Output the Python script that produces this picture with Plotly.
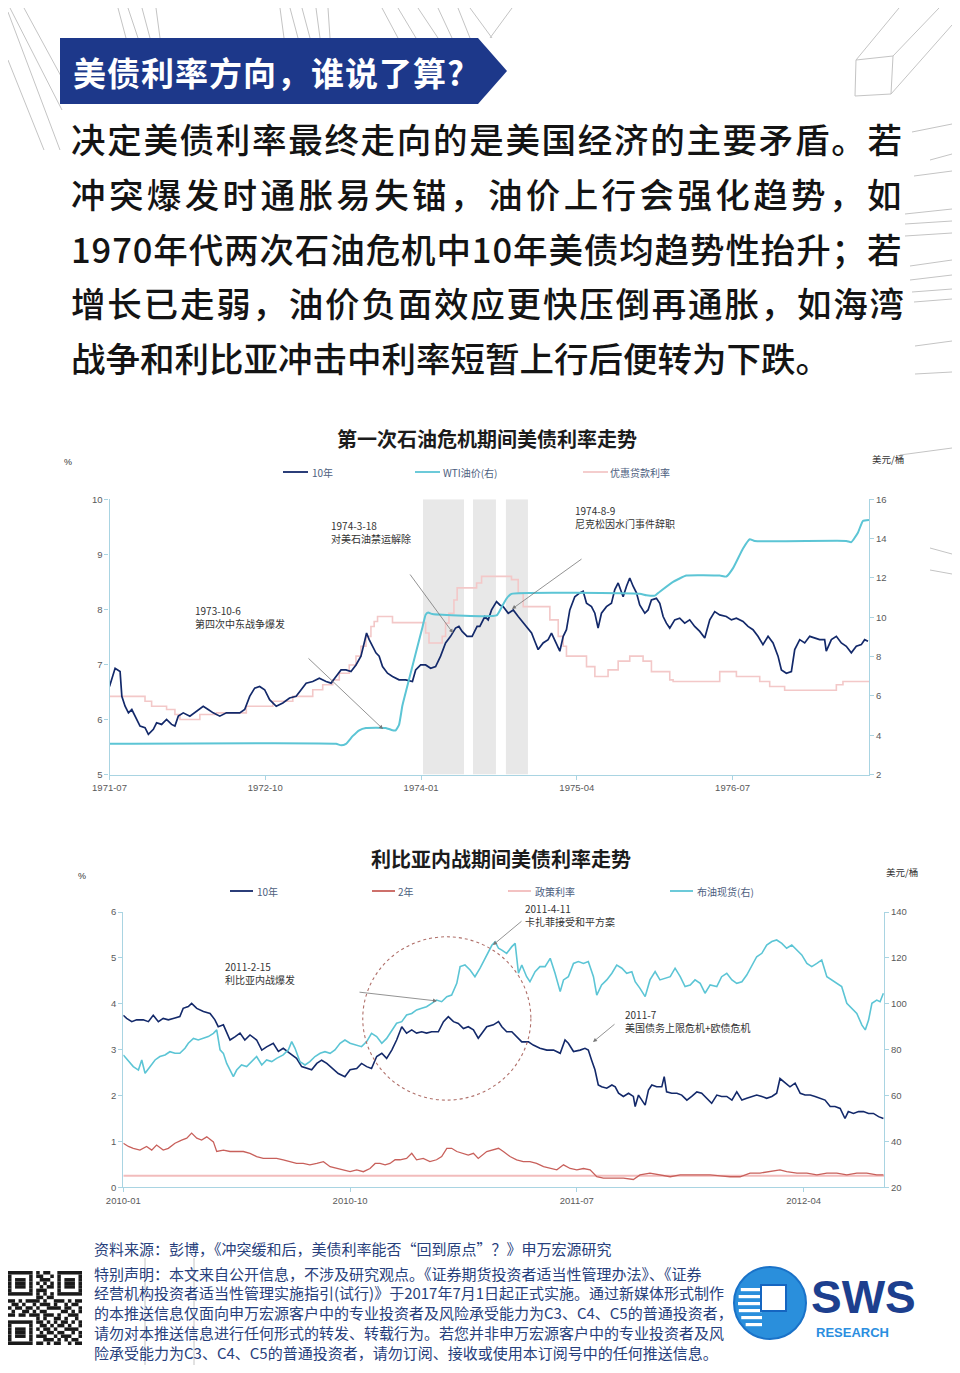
import plotly.graph_objects as go

# The page body keeps its default 8px margin, so the figure is drawn 8px in
# from the page corner; all layout positions below are given in page pixels.
PAGE_W, PAGE_H = 960, 1373
OFF = 8
W, H = PAGE_W - 2 * OFF, PAGE_H - 2 * OFF


def X(px):
    return (px - OFF) / W


def Y(py):
    return 1 - (py - OFF) / H


# ---------------- chart 1 data (decimal years) ----------------
c1_xtick_vals = [1971.5, 1972.75, 1974.0, 1975.25, 1976.5]
c1_xtick_text = ["1971-07", "1972-10", "1974-01", "1975-04", "1976-07"]
c1_bands = [(1974.016, 1974.345), (1974.417, 1974.601), (1974.681, 1974.858)]

c1_t10_year = [
    1971.500, 1971.545, 1971.585, 1971.599, 1971.625, 1971.652, 1971.679, 1971.705, 1971.745, 1971.785,
    1971.812, 1971.852, 1971.878, 1971.918, 1971.958, 1971.998, 1972.025, 1972.052, 1972.092, 1972.145,
    1972.198, 1972.252, 1972.292, 1972.332, 1972.385, 1972.438, 1972.491, 1972.545, 1972.585, 1972.625,
    1972.665, 1972.705, 1972.745, 1972.785, 1972.838, 1972.891, 1972.945, 1972.998, 1973.038, 1973.078,
    1973.131, 1973.184, 1973.238, 1973.278, 1973.318, 1973.358, 1973.398, 1973.438, 1973.478, 1973.518,
    1973.544, 1973.563, 1973.584, 1973.611, 1973.638, 1973.664, 1973.691, 1973.731, 1973.771, 1973.824,
    1973.877, 1973.931, 1973.957, 1973.997, 1974.037, 1974.077, 1974.117, 1974.157, 1974.197, 1974.237,
    1974.277, 1974.304, 1974.330, 1974.370, 1974.410, 1974.450,
    1974.472, 1974.512, 1974.539, 1974.566, 1974.606, 1974.633, 1974.660, 1974.700, 1974.740, 1974.780,
    1974.820, 1974.860, 1974.887, 1974.913, 1974.940, 1974.980, 1975.020, 1975.047, 1975.087, 1975.114,
    1975.141, 1975.167, 1975.194, 1975.234, 1975.274, 1975.301, 1975.328, 1975.368, 1975.395, 1975.421,
    1975.448, 1975.488, 1975.528, 1975.555, 1975.582, 1975.622, 1975.649, 1975.675, 1975.702, 1975.729,
    1975.755, 1975.796, 1975.822, 1975.849, 1975.889, 1975.916, 1975.943, 1975.969, 1975.996, 1976.036,
    1976.076, 1976.116, 1976.156, 1976.196, 1976.237, 1976.277, 1976.317, 1976.357, 1976.397, 1976.450,
    1976.491, 1976.531, 1976.584, 1976.624, 1976.664, 1976.704, 1976.744, 1976.785, 1976.825, 1976.865,
    1976.892, 1976.932, 1976.972, 1976.999, 1977.039, 1977.079, 1977.119, 1977.159, 1977.199, 1977.239,
    1977.252, 1977.293, 1977.333, 1977.373, 1977.413, 1977.453, 1977.493, 1977.533, 1977.560, 1977.587,
]
c1_t10_val = [
    6.60, 6.93, 6.87, 6.42, 6.24, 6.12, 6.18, 6.06, 5.88, 5.85,
    5.73, 5.82, 5.94, 5.91, 6.00, 5.91, 5.88, 6.06, 6.12, 6.06,
    6.15, 6.24, 6.18, 6.12, 6.06, 6.12, 6.12, 6.12, 6.18, 6.42,
    6.57, 6.60, 6.54, 6.36, 6.24, 6.30, 6.39, 6.42, 6.54, 6.66,
    6.69, 6.75, 6.69, 6.66, 6.78, 6.90, 6.90, 6.87, 6.99, 7.15,
    7.39, 7.57, 7.45, 7.33, 7.21, 7.15, 6.96, 6.84, 6.78, 6.72,
    6.72, 6.69, 6.90, 6.99, 6.99, 6.93, 6.96, 7.15, 7.39, 7.51,
    7.66, 7.69, 7.60, 7.51, 7.51, 7.69,
    7.69, 7.87, 7.81, 7.99, 8.14, 8.08, 8.05, 7.93, 7.99, 7.87,
    7.75, 7.63, 7.57, 7.42, 7.27, 7.39, 7.45, 7.57, 7.39, 7.24,
    7.51, 7.63, 7.99, 8.23, 8.30, 8.33, 8.11, 8.05, 7.93, 7.66,
    7.93, 8.05, 8.11, 8.36, 8.48, 8.23, 8.42, 8.57, 8.42, 8.30,
    8.08, 7.93, 7.99, 8.17, 8.20, 8.11, 7.87, 7.75, 7.66, 7.81,
    7.84, 7.75, 7.81, 7.69, 7.60, 7.48, 7.81, 7.96, 7.90, 7.87,
    7.81, 7.84, 7.78, 7.69, 7.63, 7.51, 7.36, 7.51, 7.39, 7.15,
    6.90, 6.84, 6.87, 7.27, 7.45, 7.39, 7.51, 7.48, 7.45, 7.45,
    7.24, 7.45, 7.51, 7.39, 7.33, 7.21, 7.33, 7.36, 7.45, 7.42,
]

c1_wti_year = [
    1971.500, 1973.318, 1973.358, 1973.398, 1973.451, 1973.504, 1973.558, 1973.717, 1973.771, 1973.797,
    1973.824, 1973.851, 1973.904, 1973.957, 1974.011, 1974.037, 1974.058, 1974.091, 1974.606, 1974.646,
    1974.686, 1974.726, 1975.755, 1975.809, 1975.876, 1975.916, 1976.023, 1976.130, 1976.397, 1976.450,
    1976.504, 1976.584, 1976.638, 1976.678, 1977.413, 1977.453, 1977.506, 1977.546, 1977.595,
]
c1_wti_val = [
    3.56, 3.56, 3.49, 3.56, 3.95, 4.25, 4.37, 4.37, 4.25, 4.25,
    4.54, 5.52, 6.84, 8.16, 9.48, 10.13, 10.24, 10.16, 10.09, 10.5,
    10.95, 11.19, 11.19, 11.12, 11.10, 11.3, 11.8, 12.12, 12.12, 12.07,
    12.5, 13.5, 13.97, 13.88, 13.88, 13.82, 14.3, 14.9, 14.95,
]

c1_prime_year = [
    1971.500, 1971.785, 1971.838, 1971.958, 1972.025, 1972.065, 1972.225, 1972.358, 1972.598, 1972.811,
    1972.971, 1973.131, 1973.211, 1973.291, 1973.344, 1973.424, 1973.478, 1973.518, 1973.558, 1973.598,
    1973.624, 1973.651, 1973.771, 1974.037, 1974.064, 1974.170, 1974.197, 1974.224, 1974.264, 1974.290,
    1974.446, 1974.486, 1974.726, 1974.780, 1974.820, 1975.034, 1975.101, 1975.141, 1975.167, 1975.328,
    1975.395, 1975.501, 1975.582, 1975.675, 1975.782, 1975.849, 1975.996, 1976.023, 1976.397, 1976.531,
    1976.718, 1976.798, 1976.918, 1977.333, 1977.386, 1977.595,
]
c1_prime_val = [
    6.42, 6.33, 6.24, 6.18, 6.09, 6.00, 6.09, 6.12, 6.24, 6.33,
    6.42, 6.54, 6.63, 6.72, 6.84, 6.99, 7.15, 7.33, 7.51, 7.69,
    7.78, 7.87, 7.76, 7.57, 7.39, 7.51, 7.75, 7.93, 8.17, 8.39,
    8.48, 8.60, 8.54, 8.30, 8.05, 7.81, 7.51, 7.33, 7.15, 6.96,
    6.78, 6.90, 7.06, 7.15, 7.06, 6.87, 6.72, 6.69, 6.87, 6.78,
    6.69, 6.60, 6.53, 6.63, 6.69, 6.69,
]

# ---------------- chart 2 data (decimal years) ----------------
c2_xtick_vals = [2010.0, 2010.75, 2011.5, 2012.25]
c2_xtick_text = ["2010-01", "2010-10", "2011-07", "2012-04"]

c2_t10_year = [
    2010.000, 2010.011, 2010.028, 2010.044, 2010.066, 2010.083, 2010.099, 2010.116, 2010.132, 2010.149,
    2010.165, 2010.187, 2010.198, 2010.215, 2010.226, 2010.243, 2010.265, 2010.287, 2010.303, 2010.314,
    2010.331, 2010.342, 2010.353, 2010.369, 2010.386, 2010.402, 2010.419, 2010.441, 2010.458, 2010.474,
    2010.496, 2010.513, 2010.529, 2010.551, 2010.573, 2010.590, 2010.606, 2010.623, 2010.640, 2010.656,
    2010.673, 2010.695, 2010.711, 2010.733, 2010.750, 2010.772, 2010.788, 2010.805, 2010.821, 2010.838,
    2010.855, 2010.871, 2010.888, 2010.904, 2010.921, 2010.937, 2010.954, 2010.970, 2010.987, 2011.003,
    2011.020, 2011.042, 2011.059, 2011.075, 2011.092, 2011.108, 2011.125, 2011.141, 2011.158, 2011.174,
    2011.202, 2011.224, 2011.241, 2011.252, 2011.268, 2011.285, 2011.301, 2011.318, 2011.340, 2011.356,
    2011.378, 2011.401, 2011.423, 2011.445, 2011.461, 2011.472, 2011.489, 2011.511, 2011.527, 2011.538,
    2011.549, 2011.560, 2011.571, 2011.582, 2011.599, 2011.616, 2011.627, 2011.638, 2011.654, 2011.671,
    2011.687, 2011.693, 2011.704, 2011.715, 2011.726, 2011.737, 2011.748, 2011.764, 2011.781, 2011.789,
    2011.797, 2011.814, 2011.831, 2011.847, 2011.864, 2011.880, 2011.897, 2011.913, 2011.930, 2011.946,
    2011.963, 2011.979, 2011.996, 2012.013, 2012.029, 2012.046, 2012.062, 2012.079, 2012.095, 2012.112,
    2012.128, 2012.145, 2012.161, 2012.172, 2012.189, 2012.205, 2012.222, 2012.239, 2012.255, 2012.272,
    2012.288, 2012.305, 2012.321, 2012.338, 2012.354, 2012.371, 2012.387, 2012.398, 2012.415, 2012.432,
    2012.448, 2012.465, 2012.481, 2012.498, 2012.514,
]
c2_t10_val = [
    3.75, 3.68, 3.61, 3.65, 3.65, 3.61, 3.75, 3.61, 3.68, 3.65,
    3.68, 3.72, 3.90, 3.94, 4.01, 3.90, 3.83, 3.79, 3.65, 3.50,
    3.54, 3.39, 3.21, 3.28, 3.36, 3.21, 3.32, 3.21, 2.99, 3.06,
    3.14, 2.96, 3.03, 2.92, 2.81, 2.63, 2.59, 2.56, 2.70, 2.77,
    2.70, 2.56, 2.48, 2.41, 2.56, 2.59, 2.70, 2.63, 2.59, 2.85,
    2.92, 2.81, 2.99, 3.21, 3.50, 3.36, 3.43, 3.36, 3.39, 3.36,
    3.39, 3.39, 3.61, 3.72, 3.61, 3.57, 3.46, 3.50, 3.43, 3.25,
    3.50, 3.54, 3.61, 3.50, 3.39, 3.39, 3.28, 3.17, 3.17, 3.10,
    3.03, 2.99, 2.99, 2.92, 3.21, 3.14, 2.96, 2.99, 3.03, 2.99,
    2.77, 2.56, 2.23, 2.19, 2.16, 2.23, 2.19, 2.05, 1.98, 2.05,
    1.98, 1.76, 2.01, 1.90, 1.79, 2.12, 2.23, 2.19, 2.19, 2.41,
    2.08, 2.05, 2.05, 2.01, 1.90, 1.98, 2.08, 2.05, 1.94, 1.83,
    2.01, 1.98, 1.98, 1.90, 2.08, 1.90, 1.94, 1.98, 2.01, 1.98,
    1.94, 1.98, 2.05, 2.37, 2.27, 2.19, 2.27, 2.05, 2.01, 2.01,
    1.98, 1.94, 1.90, 1.76, 1.76, 1.72, 1.50, 1.65, 1.61, 1.65,
    1.65, 1.61, 1.61, 1.54, 1.50,
]

c2_brent_year = [
    2010.000, 2010.017, 2010.033, 2010.050, 2010.061, 2010.072, 2010.088, 2010.105, 2010.121, 2010.138,
    2010.154, 2010.171, 2010.187, 2010.204, 2010.215, 2010.232, 2010.248, 2010.265, 2010.281, 2010.298,
    2010.309, 2010.320, 2010.331, 2010.342, 2010.353, 2010.364, 2010.375, 2010.391, 2010.408, 2010.425,
    2010.441, 2010.458, 2010.474, 2010.491, 2010.507, 2010.529, 2010.546, 2010.557, 2010.568, 2010.584,
    2010.601, 2010.617, 2010.634, 2010.651, 2010.667, 2010.684, 2010.700, 2010.717, 2010.733, 2010.750,
    2010.772, 2010.788, 2010.805, 2010.821, 2010.838, 2010.855, 2010.871, 2010.888, 2010.904, 2010.921,
    2010.937, 2010.954, 2010.970, 2010.987, 2011.003, 2011.020, 2011.036, 2011.053, 2011.070, 2011.086,
    2011.103, 2011.114, 2011.130, 2011.147, 2011.163, 2011.180,
    2011.202, 2011.219, 2011.230, 2011.241, 2011.252, 2011.268, 2011.285, 2011.296, 2011.307, 2011.318,
    2011.334, 2011.345, 2011.362, 2011.378, 2011.395, 2011.412, 2011.428, 2011.445, 2011.456, 2011.472,
    2011.489, 2011.505, 2011.522, 2011.538, 2011.555, 2011.566, 2011.582, 2011.599, 2011.616, 2011.632,
    2011.649, 2011.665, 2011.682, 2011.693, 2011.709, 2011.726, 2011.742, 2011.759, 2011.775, 2011.792,
    2011.809, 2011.825, 2011.842, 2011.858, 2011.875, 2011.891, 2011.908, 2011.924, 2011.941, 2011.963,
    2011.979, 2011.996, 2012.013, 2012.029, 2012.046, 2012.062, 2012.079, 2012.095, 2012.112, 2012.128,
    2012.145, 2012.161, 2012.178, 2012.194, 2012.211, 2012.228, 2012.244, 2012.261, 2012.277, 2012.294,
    2012.310, 2012.327, 2012.343, 2012.360, 2012.376, 2012.393, 2012.409, 2012.426, 2012.443, 2012.454,
    2012.465, 2012.476, 2012.492, 2012.503, 2012.514,
]
c2_brent_val = [
    77.7, 74.8, 72.6, 71.1, 75.5, 69.7, 72.6, 75.5, 77.0, 77.7,
    79.1, 78.4, 78.4, 80.6, 82.8, 84.9, 84.2, 84.9, 85.7, 87.1,
    88.6, 79.9, 78.4, 74.0, 71.1, 68.2, 71.1, 73.3, 72.6, 74.8,
    77.0, 73.3, 75.5, 74.8, 76.2, 77.7, 79.9, 83.5, 80.6, 74.8,
    73.3, 74.8, 77.0, 78.4, 79.1, 78.4, 79.9, 82.8, 84.2, 82.8,
    82.0, 81.3, 83.5, 87.1, 85.7, 82.8, 84.9, 88.6, 91.5, 92.2,
    95.1, 95.8, 97.3, 98.0, 98.7, 100.2, 101.6, 100.9, 103.1, 103.8,
    108.9, 116.2, 116.9, 114.7, 111.8, 115.5,
    121.0, 125.5, 127.0, 124.2, 123.4, 122.0, 124.9, 126.3, 113.3, 116.9,
    111.8, 109.6, 114.0, 116.2, 116.2, 119.8, 113.3, 105.3, 110.4, 111.8,
    117.6, 118.4, 117.6, 118.4, 111.8, 103.8, 108.2, 110.4, 113.3, 116.9,
    115.5, 113.3, 114.0, 109.6, 106.7, 103.1, 110.4, 114.0, 110.4, 111.1,
    111.8, 115.5, 111.8, 107.5, 108.2, 110.4, 108.9, 104.6, 108.2, 107.5,
    111.8, 113.3, 110.4, 108.9, 109.6, 112.5, 116.9, 120.5, 122.0, 125.6,
    127.1, 127.8, 126.3, 124.2, 125.6, 123.4, 121.3, 117.6, 116.2, 117.6,
    119.1, 111.8, 110.4, 108.9, 107.5, 100.2, 98.0, 95.8, 90.7, 88.6,
    92.9, 100.2, 101.6, 100.9, 104.6,
]

c2_t2_year = [
    2010.000, 2010.017, 2010.033, 2010.055, 2010.077, 2010.094, 2010.110, 2010.132, 2010.149, 2010.171,
    2010.193, 2010.210, 2010.226, 2010.243, 2010.259, 2010.276, 2010.298, 2010.309, 2010.331, 2010.353,
    2010.375, 2010.397, 2010.419, 2010.441, 2010.463, 2010.485, 2010.507, 2010.529, 2010.551, 2010.573,
    2010.595, 2010.617, 2010.640, 2010.662, 2010.684, 2010.706, 2010.728, 2010.750, 2010.772, 2010.794,
    2010.816, 2010.833, 2010.849, 2010.866, 2010.882, 2010.899, 2010.915, 2010.937, 2010.954, 2010.970,
    2010.992, 2011.014, 2011.036, 2011.053, 2011.070, 2011.086, 2011.103, 2011.125, 2011.141, 2011.158,
    2011.174, 2011.202, 2011.224, 2011.241, 2011.257, 2011.279, 2011.301, 2011.323, 2011.345, 2011.367,
    2011.390, 2011.412, 2011.434, 2011.456, 2011.478, 2011.500, 2011.522, 2011.544, 2011.566, 2011.588,
    2011.621, 2011.654, 2011.687, 2011.709, 2011.742, 2011.775, 2011.809, 2011.842, 2011.875, 2011.908,
    2011.941, 2011.974, 2012.007, 2012.040, 2012.073, 2012.106, 2012.139, 2012.172, 2012.194, 2012.228,
    2012.261, 2012.294, 2012.327, 2012.360, 2012.393, 2012.426, 2012.459, 2012.492, 2012.514,
]
c2_t2_val = [
    0.96, 0.89, 0.85, 0.81, 0.89, 0.81, 0.92, 0.81, 0.85, 0.96,
    1.03, 1.07, 1.18, 1.07, 1.03, 1.10, 0.99, 0.78, 0.81, 0.78,
    0.78, 0.78, 0.74, 0.67, 0.63, 0.63, 0.63, 0.60, 0.56, 0.52,
    0.52, 0.49, 0.52, 0.56, 0.45, 0.41, 0.38, 0.34, 0.38, 0.34,
    0.41, 0.52, 0.52, 0.49, 0.52, 0.60, 0.60, 0.63, 0.74, 0.60,
    0.63, 0.56, 0.60, 0.67, 0.85, 0.85, 0.78, 0.74, 0.70, 0.74,
    0.63, 0.78, 0.81, 0.85, 0.78, 0.67, 0.60, 0.56, 0.56, 0.52,
    0.45, 0.41, 0.38, 0.49, 0.41, 0.38, 0.41, 0.38, 0.23, 0.20,
    0.20, 0.20, 0.17, 0.27, 0.31, 0.27, 0.23, 0.27, 0.27, 0.27,
    0.27, 0.25, 0.23, 0.23, 0.31, 0.31, 0.34, 0.38, 0.34, 0.31,
    0.31, 0.27, 0.31, 0.31, 0.27, 0.31, 0.31, 0.27, 0.27,
]

c2_policy_year = [2010.0, 2012.516]
c2_policy_val = [0.25, 0.25]

# ---------------- text content ----------------
banner_title = "美债利率方向，谁说了算?"
para_lines = [
    "决定美债利率最终走向的是美国经济的主要矛盾。若",
    "冲突爆发时通胀易失锚，油价上行会强化趋势，如",
    "1970年代两次石油危机中10年美债均趋势性抬升；若",
    "增长已走弱，油价负面效应更快压倒再通胀，如海湾",
    "战争和利比亚冲击中利率短暂上行后便转为下跌。",
]
c1_title = "第一次石油危机期间美债利率走势"
c2_title = "利比亚内战期间美债利率走势"
c1_legend = ["10年", "WTI油价(右)", "优惠贷款利率"]
c2_legend = ["10年", "2年", "政策利率", "布油现货(右)"]
c1_notes = ["1973-10-6<br>第四次中东战争爆发", "1974-3-18<br>对美石油禁运解除", "1974-8-9<br>尼克松因水门事件辞职"]
c2_notes = ["2011-2-15<br>利比亚内战爆发", "2011-4-11<br>卡扎菲接受和平方案", "2011-7<br>美国债务上限危机+欧债危机"]
source_line = "资料来源：彭博，《冲突缓和后，美债利率能否“回到原点”？》申万宏源研究"
disclaimer_lines = [
    "特别声明：本文来自公开信息，不涉及研究观点。《证券期货投资者适当性管理办法》、《证券",
    "经营机构投资者适当性管理实施指引(试行)》于2017年7月1日起正式实施。通过新媒体形式制作",
    "的本推送信息仅面向申万宏源客户中的专业投资者及风险承受能力为C3、C4、C5的普通投资者，",
    "请勿对本推送信息进行任何形式的转发、转载行为。若您并非申万宏源客户中的专业投资者及风",
    "险承受能力为C3、C4、C5的普通投资者，请勿订阅、接收或使用本订阅号中的任何推送信息。",
]

# ---------------- style ----------------
NAVY = "#13296a"
CYAN = "#5cc5d5"
PINK = "#f3c8c8"
PINK2 = "#f2bcbc"
RED = "#c8605b"
AXIS = "#a9d4e2"
TICK = "#5a5a5a"
CJK = "Noto Sans CJK SC"
LAT = "Liberation Sans, Arial, sans-serif"
DECO = "#c4c4c4"

fig = go.Figure()


def add_line(x, y, color, width, xa, ya, shape="linear", smoothing=None):
    line = dict(color=color, width=width, shape=shape)
    if smoothing is not None:
        line["smoothing"] = smoothing
    fig.add_trace(go.Scatter(x=x, y=y, mode="lines", line=line,
                             xaxis=xa, yaxis=ya, hoverinfo="skip", showlegend=False))


# chart 1
add_line(c1_prime_year, c1_prime_val, PINK, 1.6, "x", "y", "hv")
add_line(c1_t10_year, c1_t10_val, NAVY, 1.7, "x", "y")
add_line(c1_wti_year, c1_wti_val, CYAN, 2.0, "x", "y2", "spline", 0.4)
# chart 2
add_line(c2_policy_year, c2_policy_val, PINK2, 2.0, "x2", "y3")
add_line(c2_t2_year, c2_t2_val, RED, 1.3, "x2", "y3")
add_line(c2_t10_year, c2_t10_val, NAVY, 1.6, "x2", "y3")
add_line(c2_brent_year, c2_brent_val, CYAN, 1.6, "x2", "y4")

shapes = []
annotations = []


def seg(x0, y0, x1, y1, color=DECO, width=1, layer="below"):
    shapes.append(dict(type="line", xref="paper", yref="paper", x0=X(x0), y0=Y(y0), x1=X(x1), y1=Y(y1),
                       line=dict(color=color, width=width), layer=layer))


def rect(x0, y0, x1, y1, fill, line_color=None, lw=0, layer="above"):
    shapes.append(dict(type="rect", xref="paper", yref="paper", x0=X(x0), y0=Y(y1), x1=X(x1), y1=Y(y0),
                       fillcolor=fill, line=dict(color=line_color or fill, width=lw), layer=layer))


def text(px, py, s, size, color="#222", family=CJK, xanchor="left", yanchor="middle", weight=None):
    font = dict(family=family, size=size, color=color)
    if weight:
        font["weight"] = weight
    annotations.append(dict(x=X(px), y=Y(py), xref="paper", yref="paper", text=s, showarrow=False,
                            xanchor=xanchor, yanchor=yanchor, align="left", font=font,
                            borderpad=0))


def arrow(hx, hy, tx, ty):
    annotations.append(dict(x=X(hx), y=Y(hy), xref="paper", yref="paper", ax=tx - hx, ay=ty - hy,
                            text="", showarrow=True, arrowhead=2, arrowsize=1, arrowwidth=0.8,
                            arrowcolor="#777777", standoff=0, startstandoff=0))


# ---------------- decorative lines ----------------
for a in [(8, 12, 60, 150), (8, 60, 44, 150), (10, 8, 62, 110), (24, 8, 62, 78),
          (118, 8, 126, 38), (128, 8, 138, 38), (142, 8, 150, 38), (156, 8, 160, 38),
          (280, 8, 284, 38), (290, 8, 298, 38), (302, 8, 310, 38), (316, 8, 320, 38), (328, 8, 330, 38),
          (382, 8, 398, 38), (398, 8, 416, 38), (418, 8, 438, 38), (438, 8, 452, 38), (458, 8, 470, 38),
          (470, 8, 492, 38), (512, 8, 490, 38),
          (899, 8, 856, 60), (939, 8, 893, 56), (952, 25, 891, 94),
          (856, 60, 893, 56), (893, 56, 891, 94), (891, 94, 855, 96), (855, 96, 856, 60),
          (912, 132, 952, 124), (930, 160, 952, 154), (914, 176, 952, 171),
          (905, 214, 952, 209), (905, 224, 952, 221), (905, 236, 952, 233),
          (910, 266, 952, 260), (910, 280, 952, 275), (912, 292, 952, 289), (914, 302, 952, 299),
          (915, 346, 952, 341), (915, 374, 952, 372),
          (900, 455, 952, 448), (930, 548, 952, 554), (930, 570, 952, 574),
          (145, 1258, 145, 1365), (194, 1258, 194, 1365)]:
    seg(*a)

# ---------------- header ----------------
shapes.append(dict(type="path", xref="paper", yref="paper",
                   path="M {0},{1} L {2},{1} L {3},{4} L {2},{5} L {0},{5} Z".format(
                       X(60), Y(38), X(478), X(507), Y(71), Y(104)),
                   fillcolor="#1d388a", line=dict(width=0)))
text(72, 72, '<span style="letter-spacing:1px">' + banner_title + "</span>", 33, "white", weight=700)

para_spacing = [1.7, 3.4, 0.9, 1.8, 0]
for i, (ln, sp) in enumerate(zip(para_lines, para_spacing)):
    text(70, 138 + i * 54.8, '<span style="letter-spacing:%.1fpx">%s</span>' % (sp, ln), 34.5, "#141414",
         weight=500)

# ---------------- chart 1 decorations ----------------
for b0, b1 in c1_bands:
    shapes.append(dict(type="rect", xref="x", yref="y", x0=b0, x1=b1, y0=5, y1=10,
                       fillcolor="#e8e8e8", line=dict(width=0), layer="below"))

text(487, 438, c1_title, 20, "#1c1c1c", xanchor="center", weight=700)
text(68, 462, "%", 9, "#333", family=LAT, xanchor="center")
text(888, 459, "美元/桶", 9.5, "#333", xanchor="center")

leg_col = "#4d5e80"
for (lx, txt_x, col), lab in zip([(283, 311, NAVY), (415, 442, CYAN), (583, 609, PINK)], c1_legend):
    seg(lx, 472, lx + 25, 472, col, 1.8, "above")
    text(txt_x, 472, lab, 10, leg_col)

for (nx, ny), s in zip([(194, 602), (330, 517), (574, 502)], c1_notes):
    text(nx, ny, s, 10, "#333", yanchor="top")
arrow(383, 729, 307, 657)
arrow(453, 633, 409, 573)
arrow(512, 609, 583, 558)

# ---------------- chart 2 decorations ----------------
text(501, 858, c2_title, 20, "#1c1c1c", xanchor="center", weight=700)
text(82, 876, "%", 9, "#333", family=LAT, xanchor="center")
text(902, 872, "美元/桶", 9.5, "#333", xanchor="center")
for (lx, txt_x, col), lab in zip([(230, 256, NAVY), (372, 397, RED), (508, 534, PINK2), (670, 696, CYAN)], c2_legend):
    seg(lx, 891, lx + 23, 891, col, 1.8, "above")
    text(txt_x, 891, lab, 10, leg_col)

shapes.append(dict(type="circle", xref="x2", yref="y3", x0=2010.792, x1=2011.348, y0=1.90, y1=5.46,
                   line=dict(color="#b0706a", width=1.1, dash="dot")))
for (nx, ny), s in zip([(224, 958), (524, 900), (624, 1006)], c2_notes):
    text(nx, ny, s, 10, "#333", yanchor="top")
arrow(437, 1001, 358, 992)
arrow(493, 945, 523, 920)
arrow(593, 1042, 616, 1023)

# ---------------- footer ----------------
FOOT = "#27407c"
text(93, 1248, source_line, 15, FOOT)
for i, ln in enumerate(disclaimer_lines):
    text(93, 1273 + i * 19.8, ln, 15, FOOT)

# QR-like block
qr_rows = [
    "111111101011001111111",
    "100000101100101000001",
    "101110100111001011101",
    "101110101010101011101",
    "101110100101101011101",
    "100000101110001000001",
    "111111101010101111111",
    "000000001101100000000",
    "110101111010011101011",
    "011010010111010010110",
    "101101101001111011001",
    "010011010110000110101",
    "110110111011101001110",
    "000000001010011010010",
    "111111101101010110101",
    "100000100110101101001",
    "101110101011010011110",
    "101110100101101100101",
    "101110101110010111001",
    "100000100011101010110",
    "111111101101011001011",
]
qx0, qy0, qs = 8.0, 1271.0, 74.0 / len(qr_rows)
for r, row in enumerate(qr_rows):
    c = 0
    while c < len(row):
        if row[c] == "1":
            c1 = c
            while c1 < len(row) and row[c1] == "1":
                c1 += 1
            rect(qx0 + c * qs, qy0 + r * qs, qx0 + c1 * qs, qy0 + (r + 1) * qs, "#1a1a1a")
            c = c1
        else:
            c += 1

# logo
shapes.append(dict(type="circle", xref="paper", yref="paper", x0=X(734), x1=X(806), y0=Y(1339), y1=Y(1267),
                   fillcolor="#2a8fdc", line=dict(color="#1a72c8", width=2)))
for sy in [1288, 1295, 1302, 1309, 1316, 1323]:
    dy = abs(sy + 1.5 - 1303)
    half = (34 ** 2 - dy ** 2) ** 0.5
    rect(770 - half + 2, sy, 762, sy + 3.2, "white")
rect(761, 1285, 786, 1311, "white", "#1565c0", 2)
text(810, 1297, "SWS", 46, "#1d3f8e", family=LAT, weight=900)
text(815, 1332, "RESEARCH", 13, "#2b8ee0", family=LAT, weight=700)

# ---------------- axes ----------------
C1_L, C1_R, C1_T, C1_B = 109.5, 869.0, 499.3, 774.5
C2_L, C2_R, C2_T, C2_B = 123.3, 884.0, 912.0, 1187.3


def ax_style(**kw):
    d = dict(showgrid=False, zeroline=False, showline=True, linecolor=AXIS, linewidth=1.2,
             ticks="outside", ticklen=4, tickwidth=1, tickcolor=AXIS, automargin=False,
             tickfont=dict(family=LAT, size=9.5, color=TICK), fixedrange=True)
    d.update(kw)
    return d


fig.update_layout(
    template="none",
    width=W, height=H, margin=dict(l=0, r=0, t=0, b=0, pad=0, autoexpand=False),
    paper_bgcolor="white", plot_bgcolor="rgba(0,0,0,0)", showlegend=False,
    xaxis=ax_style(domain=[X(C1_L), X(C1_R)], range=[1971.5, 1977.595], tickmode="array",
                   tickvals=c1_xtick_vals, ticktext=c1_xtick_text, anchor="y"),
    yaxis=ax_style(domain=[Y(C1_B), Y(C1_T)], range=[5, 10], dtick=1, anchor="x"),
    yaxis2=ax_style(range=[2, 16], dtick=2, overlaying="y", side="right", anchor="x"),
    xaxis2=ax_style(domain=[X(C2_L), X(C2_R)], range=[2010.0, 2012.516], tickmode="array",
                    tickvals=c2_xtick_vals, ticktext=c2_xtick_text, anchor="y3"),
    yaxis3=ax_style(domain=[Y(C2_B), Y(C2_T)], range=[0, 6], dtick=1, anchor="x2"),
    yaxis4=ax_style(range=[20, 140], dtick=20, overlaying="y3", side="right", anchor="x2"),
    shapes=shapes, annotations=annotations,
)

fig.write_html("out.html")
